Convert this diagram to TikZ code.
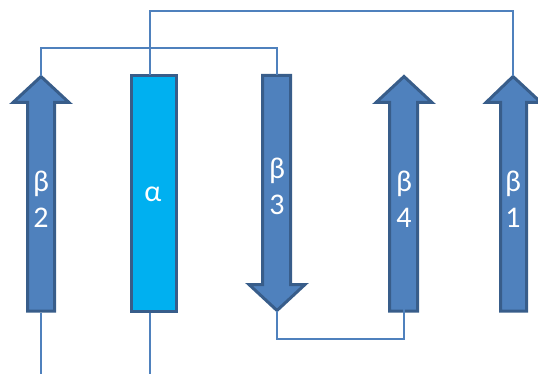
\documentclass[tikz,border=0pt]{standalone}
\usepackage{fontspec}
\setmainfont{Carlito}
\definecolor{strandfill}{HTML}{4F81BD}
\definecolor{strandedge}{HTML}{385D8A}
\definecolor{helixfill}{HTML}{00B0F0}
\definecolor{loopcol}{HTML}{4F81BD}
\tikzset{
  strand/.style={fill=strandfill,draw=strandedge,line width=3pt,line join=miter},
  helix/.style={fill=helixfill,draw=strandedge,line width=3pt,line join=miter},
  loop/.style={draw=loopcol,line width=1.1pt},
  lbl/.style={text=white,font=\fontsize{30}{36}\selectfont,align=center,inner sep=0pt},
}
\begin{document}
\begin{tikzpicture}[x=1pt,y=-1pt]
\useasboundingbox (0,0) rectangle (538,374);
% beta 2 (up)
\draw[strand] (27.5,311) -- (27.5,102.5) -- (13,102.5) -- (41,76.5) -- (69,102.5) -- (54.5,102.5) -- (54.5,311) -- cycle;
\coordinate (b2top) at (41,76.5);
\coordinate (b2bot) at (41,312.5);
% alpha
\draw[helix] (131.5,75.5) rectangle (176.5,311);
\coordinate (atop) at (150,75.5);
\coordinate (abot) at (150,312.5);
% beta 3 (down)
\draw[strand] (262.5,75.5) -- (262.5,284.5) -- (249,284.5) -- (277,310.5) -- (305,284.5) -- (290.5,284.5) -- (290.5,75.5) -- cycle;
\coordinate (b3top) at (277,75.5);
\coordinate (b3bot) at (277,311);
% beta 4 (up)
\draw[strand] (389.5,311) -- (389.5,102.5) -- (376,102.5) -- (404,76.5) -- (432,102.5) -- (417.5,102.5) -- (417.5,311) -- cycle;
\coordinate (b4top) at (404,76.5);
\coordinate (b4in) at (404,277);
% beta 1 (up)
\draw[strand] (500.5,311) -- (500.5,102.5) -- (486,102.5) -- (513,76.5) -- (541,102.5) -- (526.5,102.5) -- (526.5,311) -- cycle;
\coordinate (b1top) at (513,76.5);
% loops
\draw[loop] (b2top) -- (b2top |- 0,48) -- (b3top |- 0,48) -- (b3top);
\draw[loop] (atop) -- (atop |- 0,11) -- (b1top |- 0,11) -- (b1top);
\draw[loop] (b3bot) -- (b3bot |- 0,339) -- (b4in |- 0,339) -- (b4in);
\draw[loop] (b2bot) -- (b2bot |- 0,374);
\draw[loop] (abot) -- (abot |- 0,374);
% labels
\node[lbl] (l2) at (41,199) {β\\2};
\node[lbl,anchor=base] (la) at (153,202) {α};
\node[lbl] (l3) at (277,186) {β\\3};
\node[lbl] (l4) at (404,199) {β\\4};
\node[lbl] (l1) at (513,199) {β\\1};
\end{tikzpicture}
\end{document}
